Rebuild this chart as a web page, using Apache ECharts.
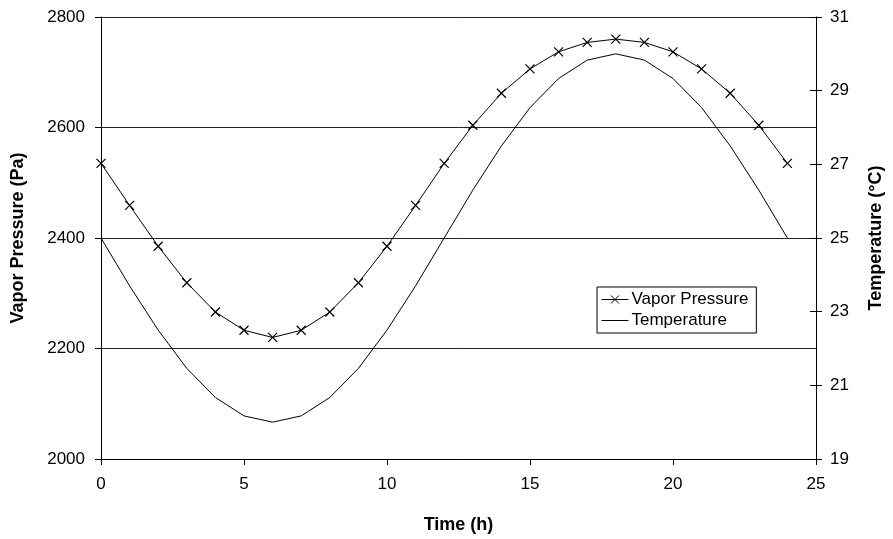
<!DOCTYPE html>
<html>
<head>
<meta charset="utf-8">
<script src="https://cdn.jsdelivr.net/npm/echarts@6/dist/echarts.min.js"></script>
<style>
html,body{margin:0;padding:0;background:#fff;}
#chart{width:893px;height:539px;}
</style>
</head>
<body>
<div id="chart"></div>
<script>
const hours = [0,1,2,3,4,5,6,7,8,9,10,11,12,13,14,15,16,17,18,19,20,21,22,23,24];
const vaporPressure = [2535,2459,2385,2319,2266,2233,2220,2233,2266,2319,2385,2459,2535,2604,2662,2706,2737,2754,2760,2754,2737,2706,2662,2604,2535];
const temperature = [25,23.7,22.5,21.46,20.67,20.17,20,20.17,20.67,21.46,22.5,23.7,25,26.3,27.5,28.54,29.33,29.83,30,29.83,29.33,28.54,27.5,26.3,25];
const xTicks = [0,5,10,15,20,25];
const leftTicks = [2000,2200,2400,2600,2800];
const rightTicks = [19,21,23,25,27,29,31];

const FONT = '"Liberation Sans", Arial, sans-serif';
const chart = echarts.init(document.getElementById('chart'), null, {renderer:'canvas'});
const xMark = 'path://M0,0L10,10M10,0L0,10';
const plain = v => String(v);

chart.setOption({
  animation:false,
  backgroundColor:'#fff',
  textStyle:{fontFamily:FONT,color:'#000'},
  grid:{left:101,right:64,top:17,bottom:75,containLabel:false},
  legend:{
    data:[
      {name:'Vapor Pressure', itemStyle:{color:'rgba(0,0,0,0)',borderColor:'#000',borderWidth:1}, lineStyle:{color:'#000',width:1}},
      {name:'Temperature', icon:'path://M0,0L54,0L54,2L0,2Z', itemStyle:{color:'#000'}}
    ],
    orient:'vertical',
    left:597, top:287,
    backgroundColor:'#fff',
    borderColor:'#000', borderWidth:1, borderRadius:0,
    padding:[4,8,4,4],
    itemGap:4, itemWidth:27, itemHeight:10,
    symbolKeepAspect:true,
    textStyle:{fontSize:17,fontFamily:FONT,color:'#000',padding:[0,0,0,-2]}
  },
  xAxis:{
    type:'value', min:xTicks[0], max:xTicks[xTicks.length-1], interval:5,
    name:'Time (h)', nameLocation:'middle', nameGap:57,
    nameTextStyle:{fontSize:18,fontWeight:'bold',fontFamily:FONT,color:'#000'},
    axisLine:{show:true,onZero:false,lineStyle:{color:'#000',width:1}},
    axisTick:{show:true,inside:false,length:6,lineStyle:{color:'#000'}},
    axisLabel:{fontSize:17,margin:17,color:'#000',fontFamily:FONT,formatter:plain},
    splitLine:{show:false}
  },
  yAxis:[
    {
      type:'value', position:'left', min:leftTicks[0], max:leftTicks[leftTicks.length-1], interval:200,
      name:'Vapor Pressure (Pa)', nameLocation:'middle', nameGap:74, nameRotate:90,
      nameTextStyle:{fontSize:18,fontWeight:'bold',fontFamily:FONT,color:'#000'},
      axisLine:{show:true,lineStyle:{color:'#000',width:1}},
      axisTick:{show:true,inside:false,length:6,lineStyle:{color:'#000'}},
      axisLabel:{fontSize:17,margin:16,color:'#000',fontFamily:FONT,formatter:plain},
      splitLine:{show:true,lineStyle:{color:'#222',width:1}}
    },
    {
      type:'value', position:'right', min:rightTicks[0], max:rightTicks[rightTicks.length-1], interval:2,
      name:'Temperature (°C)', nameLocation:'middle', nameGap:51, nameRotate:90,
      nameTextStyle:{fontSize:18,fontWeight:'bold',fontFamily:FONT,color:'#000'},
      axisLine:{show:true,lineStyle:{color:'#000',width:1}},
      axisTick:{show:true,inside:false,length:6,lineStyle:{color:'#000'}},
      axisLabel:{fontSize:17,margin:14,color:'#000',fontFamily:FONT,formatter:plain},
      splitLine:{show:false}
    },
    {
      type:'value', position:'right', min:rightTicks[0], max:rightTicks[rightTicks.length-1], interval:2,
      axisLine:{show:false},
      axisTick:{show:true,inside:true,length:6,lineStyle:{color:'#000'}},
      axisLabel:{show:false},
      splitLine:{show:false}
    }
  ],
  series:[
    {
      name:'Vapor Pressure', type:'line', yAxisIndex:0,
      data:hours.map((h,i)=>[h,vaporPressure[i]]),
      symbol:xMark, symbolSize:9, showSymbol:true,
      lineStyle:{color:'#000',width:1},
      itemStyle:{color:'rgba(0,0,0,0)',borderColor:'#000',borderWidth:1.2},
      emphasis:{disabled:true}
    },
    {
      name:'Temperature', type:'line', yAxisIndex:1,
      data:hours.map((h,i)=>[h,temperature[i]]),
      symbol:'none', showSymbol:false,
      lineStyle:{color:'#000',width:1},
      itemStyle:{color:'#000'},
      emphasis:{disabled:true}
    }
  ]
});
</script>
</body>
</html>
